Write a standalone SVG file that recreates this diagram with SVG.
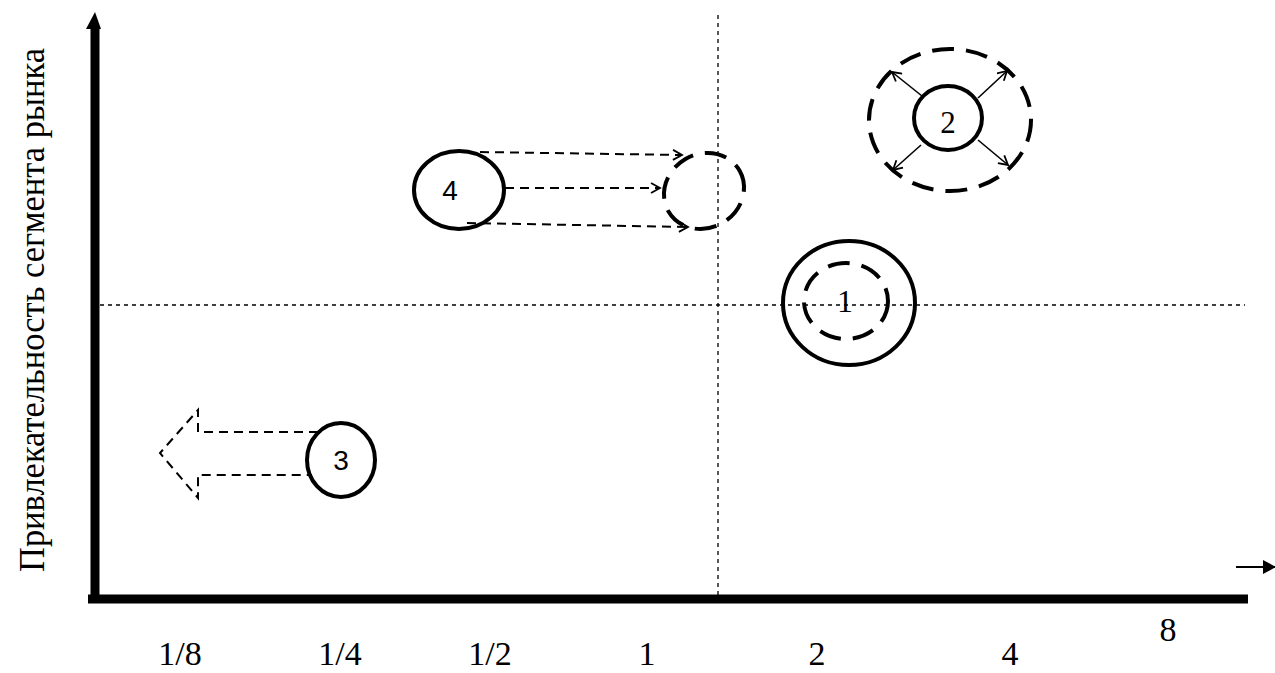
<svg xmlns="http://www.w3.org/2000/svg" width="1275" height="673" viewBox="0 0 1275 673">
<style>
.t{font-family:"Liberation Serif",serif;fill:#000}
.s{font-family:"Liberation Sans",sans-serif;fill:#000}
.ax{font-size:34px;text-anchor:middle}
.num{text-anchor:middle}
.solid{fill:none;stroke:#000;stroke-width:4}
.dash{fill:none;stroke:#000;stroke-width:4;stroke-dasharray:22,12}
.guide{fill:none;stroke:#000;stroke-width:1.3;stroke-dasharray:4,4}
.mv{fill:none;stroke:#000;stroke-width:2;stroke-dasharray:9,6}
.thin{fill:none;stroke:#000;stroke-width:1.6}
</style>
<defs>
<marker id="open" markerWidth="12" markerHeight="12" refX="10" refY="6" orient="auto" markerUnits="userSpaceOnUse">
<path d="M1,1 L10,6 L1,11" fill="none" stroke="#000" stroke-width="1.8"/>
</marker>
<marker id="solidHead" markerWidth="14" markerHeight="14" refX="12" refY="7" orient="auto" markerUnits="userSpaceOnUse">
<path d="M0,0 L13,7 L0,14 Z" fill="#000"/>
</marker>
</defs>
<g id="axes">
<line x1="95" y1="600" x2="95" y2="28" stroke="#000" stroke-width="9"/>
<path d="M95,12 L86,29 L101,29 Z" fill="#000"/>
<line x1="88" y1="599" x2="1248" y2="599" stroke="#000" stroke-width="9"/>
<line x1="1236" y1="567" x2="1275" y2="567" stroke="#000" stroke-width="2" marker-end="url(#solidHead)"/>
</g>
<g id="guides">
<line class="guide" x1="718" y1="15" x2="718" y2="598"/>
<line class="guide" x1="100" y1="305" x2="1245" y2="305"/>
</g>
<g id="labels">
<text class="t" x="44" y="310" font-size="35" text-anchor="middle" textLength="524" lengthAdjust="spacingAndGlyphs" transform="rotate(-90 44 310)">Привлекательность сегмента рынка</text>
<text class="t ax" x="180" y="665">1/8</text>
<text class="t ax" x="340" y="665">1/4</text>
<text class="t ax" x="490" y="665">1/2</text>
<text class="t ax" x="647" y="665">1</text>
<text class="t ax" x="817" y="665">2</text>
<text class="t ax" x="1010" y="665">4</text>
<text class="t ax" x="1168" y="641">8</text>
</g>
<g id="node4">
<ellipse class="solid" cx="459" cy="190" rx="45" ry="39"/>
<text class="s num" x="450" y="200" font-size="28">4</text>
</g>
<g id="node4target">
<ellipse class="dash" cx="704" cy="191" rx="41" ry="37" stroke-dasharray="40,14" transform="rotate(-30 704 191)"/>
</g>
<g id="node2">
<ellipse class="dash" cx="950" cy="120" rx="81" ry="71" stroke-dasharray="38,16"/>
<ellipse class="solid" cx="948" cy="118" rx="34" ry="32"/>
<text class="t num" x="948" y="133" font-size="31">2</text>
</g>
<g id="node1">
<ellipse class="solid" cx="849" cy="303" rx="66" ry="62"/>
<ellipse class="dash" cx="846" cy="301" rx="42" ry="38" stroke-dasharray="38,14"/>
<text class="t num" x="845" y="312" font-size="32">1</text>
</g>
<g id="node3">
<ellipse class="solid" cx="341" cy="460" rx="34" ry="37"/>
<text class="s num" x="341" y="470" font-size="28">3</text>
</g>
<g id="connectors">
<line class="mv" x1="480" y1="152" x2="682" y2="155" marker-end="url(#open)"/>
<line class="mv" x1="505" y1="188" x2="660" y2="188" marker-end="url(#open)"/>
<line class="mv" x1="467" y1="223" x2="688" y2="227" marker-end="url(#open)"/>
<line class="thin" x1="922" y1="96" x2="892" y2="72" marker-end="url(#open)"/>
<line class="thin" x1="978" y1="98" x2="1007" y2="71" marker-end="url(#open)"/>
<line class="thin" x1="921" y1="145" x2="893" y2="170" marker-end="url(#open)"/>
<line class="thin" x1="978" y1="140" x2="1008" y2="165" marker-end="url(#open)"/>
<path class="mv" d="M318,432 L198,432 L198,410 L160,453 L198,498 L198,475 L312,475"/>
</g>
</svg>
